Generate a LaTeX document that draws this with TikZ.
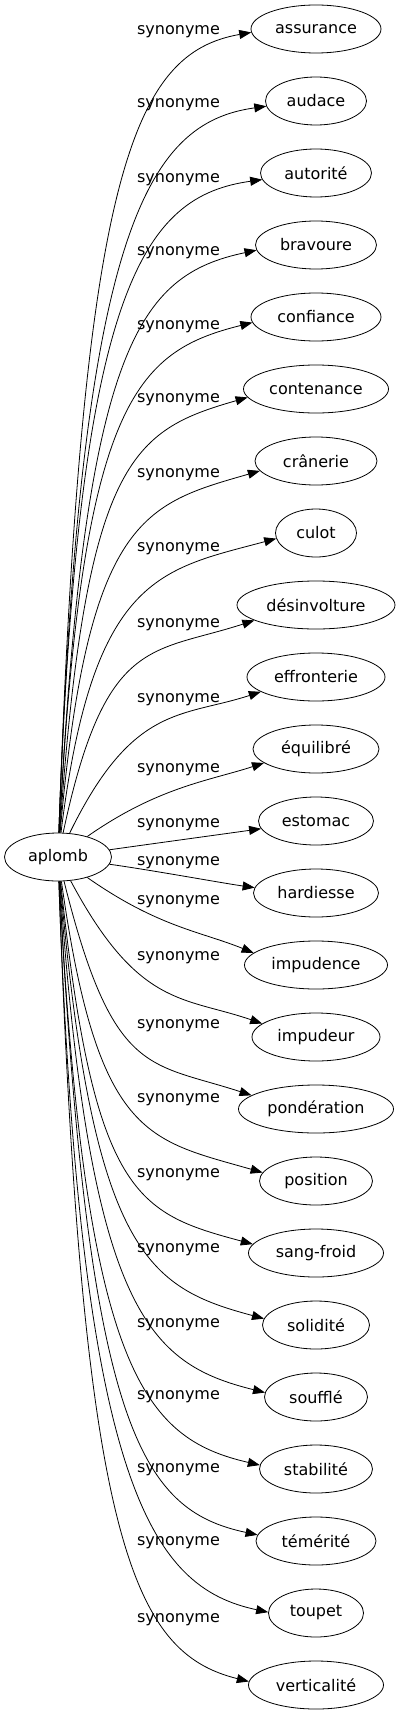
\documentclass[tikz,border=0pt]{standalone}
\usepackage{fontspec}
\setmainfont{DejaVu Sans}
\usetikzlibrary{shapes.geometric,arrows.meta}

\begin{document}
\begin{tikzpicture}[x=1pt,y=1pt]

    \tikzset{
      word/.style={
        draw,
        ellipse,
        line width=0.8pt,
        inner sep=0pt,
        minimum height=48pt,
        font=\fontsize{16}{19}\selectfont,
      },
      rel/.style={
        inner sep=0pt,
        font=\fontsize{16}{19}\selectfont,
      },
      link/.style={
        line width=0.8pt,
        -{Triangle[length=12pt,width=9pt]},
      },
    }
    \useasboundingbox (0,0) rectangle (401,-1715);
    \node[word, minimum width=107pt] (aplomb) at (58,-857) {aplomb};
    \foreach \i/\mot/\w/\ly/\ang/\inang/\endang in {
        0/assurance/130/32/88/190/183,
        1/audace/101/105/88/188/186,
        2/autorité/111/180/88/188/187,
        3/bravoure/121/253/87/192/185,
        4/confiance/130/327/87/194/185,
        5/contenance/145/400/86/196/187,
        6/crânerie/122/475/85/196/190,
        7/culot/81/549/83/195/188,
        8/désinvolture/158/625/78/198/194,
        9/effronterie/138/700/64/198/195,
        10/équilibré/126/770/35/198/195,
        11/estomac/115/825/8/188/188,
        12/hardiesse/125/863/-8/172/175,
        13/impudence/143/902/-35/158/169,
        14/impudeur/128/958/-62/161/166,
        15/pondération/155/1026/-76/162/168,
        16/position/113/1100/-82/164/171,
        17/sang-froid/135/1175/-84/165/172,
        18/solidité/107/1250/-85/165/173,
        19/soufflé/103/1325/-86/166/175,
        20/stabilité/113/1397/-87/167/176,
        21/témérité/120/1470/-87/168/174,
        22/toupet/95/1543/-88/168/179,
        23/verticalité/135/1620/-88/166/177}
    {
      \pgfmathsetmacro\yy{-(29+72*\i)}
      \pgfmathsetmacro\dy{abs(72*\i-828)}
      \pgfmathsetmacro\lo{max(0.8*\dy,45)}
      \pgfmathsetmacro\li{min(120,0.35*\dy+20)}
      \node[word, minimum width=\w pt] (t\i) at (316,\yy) {\mot};
      \node[rel] (s\i) at (178.5,-\ly) {synonyme};
      \draw[link] (aplomb) to[out=\ang, in=\inang, out distance=\lo pt, in distance=\li pt] (t\i.\endang);
    }

\end{tikzpicture}
\end{document}
